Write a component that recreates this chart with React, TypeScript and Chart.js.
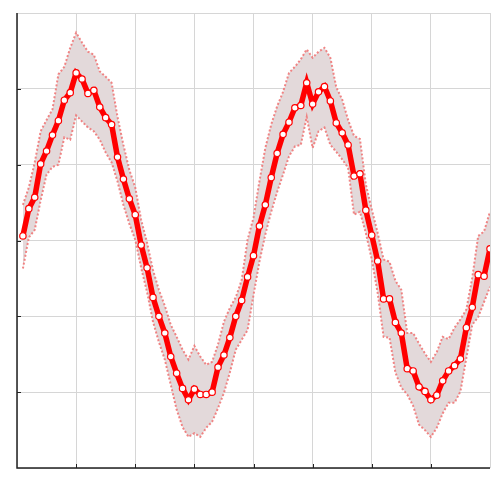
import React, { useEffect, useRef } from "react";
import { Chart, registerables } from "chart.js";

Chart.register(...registerables);

const meanValues = [
  0.06, 0.42, 0.57, 1.01, 1.18, 1.39, 1.58, 1.85, 1.95, 2.21,
  2.13, 1.94, 1.98, 1.76, 1.62, 1.53, 1.10, 0.81, 0.55, 0.34,
  -0.06, -0.36, -0.75, -1.00, -1.22, -1.53, -1.75, -1.95, -2.10, -1.96,
  -2.03, -2.03, -2.00, -1.67, -1.51, -1.28, -1.00, -0.79, -0.48, -0.20,
  0.19, 0.47, 0.83, 1.15, 1.40, 1.56, 1.75, 1.78, 2.08, 1.80,
  1.96, 2.03, 1.84, 1.55, 1.42, 1.26, 0.85, 0.88, 0.40, 0.07,
  -0.27, -0.77, -0.77, -1.08, -1.22, -1.69, -1.72, -1.93, -1.99, -2.10,
  -2.04, -1.85, -1.72, -1.65, -1.56, -1.15, -0.88, -0.45, -0.47, -0.11,
];

const upperValues = [
  0.47, 0.70, 1.03, 1.44, 1.59, 1.73, 2.19, 2.29, 2.54, 2.74,
  2.61, 2.49, 2.45, 2.23, 2.16, 2.08, 1.63, 1.26, 0.93, 0.70,
  0.27, -0.03, -0.39, -0.65, -0.86, -1.11, -1.27, -1.44, -1.57, -1.39,
  -1.53, -1.64, -1.60, -1.37, -1.07, -0.89, -0.75, -0.52, 0.01, 0.30,
  0.78, 1.22, 1.53, 1.77, 1.96, 2.21, 2.29, 2.39, 2.52, 2.41,
  2.49, 2.54, 2.41, 2.02, 1.86, 1.59, 1.38, 1.34, 0.74, 0.41,
  0.10, -0.25, -0.28, -0.53, -0.65, -1.22, -1.22, -1.36, -1.49, -1.60,
  -1.47, -1.27, -1.30, -1.15, -1.04, -0.91, -0.49, 0.06, 0.12, 0.38,
];

const lowerValues = [
  -0.37, 0.04, 0.14, 0.53, 0.87, 0.97, 1.00, 1.36, 1.33, 1.65,
  1.57, 1.49, 1.44, 1.33, 1.16, 1.03, 0.78, 0.47, 0.22, 0.01,
  -0.36, -0.68, -1.07, -1.34, -1.57, -1.90, -2.23, -2.46, -2.59, -2.54,
  -2.59, -2.47, -2.39, -2.21, -2.01, -1.74, -1.44, -1.31, -1.18, -0.72,
  -0.28, 0.08, 0.38, 0.64, 0.87, 1.11, 1.24, 1.26, 1.63, 1.22,
  1.44, 1.49, 1.26, 1.17, 1.07, 0.96, 0.34, 0.38, 0.10, -0.25,
  -0.69, -1.27, -1.28, -1.74, -1.94, -2.03, -2.18, -2.43, -2.50, -2.59,
  -2.47, -2.28, -2.14, -2.14, -1.99, -1.55, -1.11, -1.01, -0.81, -0.61,
];

const sampleIndex = meanValues.map((_, i) => i + 1);

const xTicks = [0, 10, 20, 30, 40, 50, 60, 70, 80];
const yTicks = [-3, -2, -1, 0, 1, 2, 3];

const toPoints = (vals: number[]) => vals.map((v, i) => ({ x: sampleIndex[i], y: v }));

const innerTicks = {
  id: "innerTicks",
  afterDraw(chart: any) {
    const { ctx, chartArea, scales } = chart;
    ctx.save();
    ctx.strokeStyle = "#222";
    ctx.lineWidth = 1;
    const xs = scales.x;
    const ys = scales.y;
    xTicks.slice(1, -1).forEach((t) => {
      const px = Math.round(xs.getPixelForValue(t)) + 0.5;
      ctx.beginPath();
      ctx.moveTo(px, chartArea.bottom);
      ctx.lineTo(px, chartArea.bottom - 4);
      ctx.stroke();
    });
    yTicks.slice(1, -1).forEach((t) => {
      const py = Math.round(ys.getPixelForValue(t)) + 0.5;
      ctx.beginPath();
      ctx.moveTo(chartArea.left, py);
      ctx.lineTo(chartArea.left + 4, py);
      ctx.stroke();
    });
    ctx.lineWidth = 1.5;
    ctx.beginPath();
    ctx.moveTo(chartArea.left, chartArea.top);
    ctx.lineTo(chartArea.left, chartArea.bottom);
    ctx.lineTo(chartArea.right, chartArea.bottom);
    ctx.stroke();
    ctx.restore();
  },
};

export default function App() {
  const ref = useRef<HTMLCanvasElement>(null);
  useEffect(() => {
    if (!ref.current) return;
    const chart = new Chart(ref.current, {
      type: "line",
      data: {
        datasets: [
          {
            label: "mean",
            data: toPoints(meanValues),
            borderColor: "#ff0000",
            borderWidth: 5.5,
            pointRadius: 3.2,
            pointBackgroundColor: "#ffffff",
            pointBorderColor: "#ff0000",
            pointBorderWidth: 1.2,
            tension: 0,
            fill: false,
            order: 0,
          },
          {
            label: "upper",
            data: toPoints(upperValues),
            borderColor: "rgba(240,120,120,0.9)",
            borderWidth: 2,
            borderDash: [2, 2],
            pointRadius: 0,
            tension: 0,
            fill: false,
            order: 1,
          },
          {
            label: "lower",
            data: toPoints(lowerValues),
            borderColor: "rgba(240,120,120,0.9)",
            borderWidth: 2,
            borderDash: [2, 2],
            pointRadius: 0,
            tension: 0,
            fill: { target: 1 },
            backgroundColor: "#e3d9da",
            order: 2,
          },
        ],
      },
      options: {
        animation: false,
        responsive: true,
        maintainAspectRatio: false,
        layout: { padding: { left: 17, top: 13, right: 10, bottom: 10 } },
        plugins: { legend: { display: false }, tooltip: { enabled: false } },
        scales: {
          x: {
            type: "linear",
            min: 0,
            max: 80,
            afterBuildTicks: (axis: any) => {
              axis.ticks = xTicks.map((v) => ({ value: v }));
            },
            ticks: { display: false },
            grid: { color: "#d6d6d6", lineWidth: 1, drawTicks: false },
            border: { display: false },
          },
          y: {
            type: "linear",
            min: -3,
            max: 3,
            afterBuildTicks: (axis: any) => {
              axis.ticks = yTicks.map((v) => ({ value: v }));
            },
            ticks: { display: false },
            grid: { color: "#d6d6d6", lineWidth: 1, drawTicks: false },
            border: { display: false },
          },
        },
      },
      plugins: [innerTicks],
    });
    return () => chart.destroy();
  }, []);
  return (
    <div style={{ position: "fixed", left: 0, top: 0, width: 500, height: 478 }}>
      <canvas ref={ref} />
    </div>
  );
}
